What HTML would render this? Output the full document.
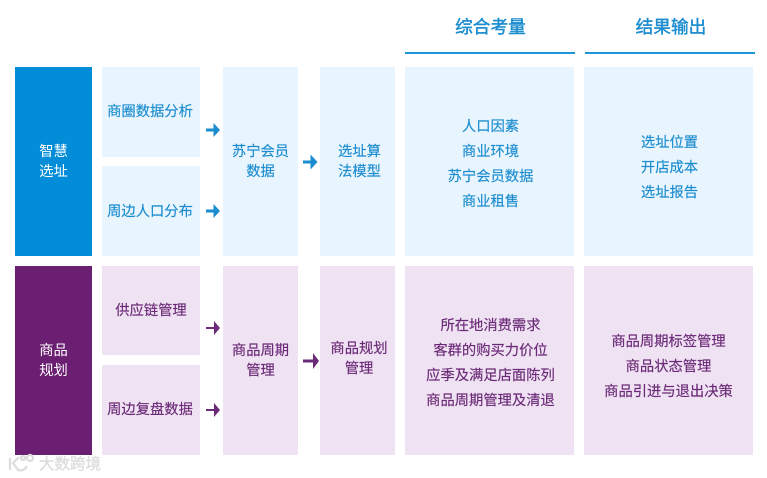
<!DOCTYPE html>
<html lang="zh"><head><meta charset="utf-8"><style>
html,body{margin:0;padding:0;background:#fff}
#c{position:relative;width:767px;height:478px;overflow:hidden;background:#fff;font-family:"Liberation Sans","Noto Sans CJK SC",sans-serif}
.b{position:absolute}
.t{position:absolute;font-size:14.3px;line-height:20px;height:20px;margin-top:2px;text-align:center;white-space:nowrap;font-weight:400;-webkit-text-stroke:.15px currentColor}
.bl{color:#1a8ccf}.pu{color:#6b2a78}.t.w{color:#fff;-webkit-text-stroke:0}
.t.h{font-size:17.7px;color:#1a8ccf;margin-top:0;-webkit-text-stroke:.4px currentColor}
</style></head><body><div id="c">
<div class="b" style="left:405px;top:52px;width:170px;height:2px;background:#1e96d8"></div>
<div class="b" style="left:585px;top:52px;width:170px;height:2px;background:#1e96d8"></div>
<div class="t h" style="left:405px;width:171px;top:17px">综合考量</div>
<div class="t h" style="left:586px;width:170px;top:17px">结果输出</div>

<div class="b" style="left:15px;top:67px;width:77px;height:189px;background:#038dd8"></div>
<div class="b" style="left:102px;top:67px;width:98px;height:90px;background:#e9f5fe"></div>
<div class="b" style="left:102px;top:166px;width:98px;height:90px;background:#e9f5fe"></div>
<div class="b" style="left:223px;top:67px;width:75px;height:189px;background:#e9f5fe"></div>
<div class="b" style="left:320px;top:67px;width:75px;height:189px;background:#e9f5fe"></div>
<div class="b" style="left:405px;top:67px;width:169px;height:189px;background:#e9f5fe"></div>
<div class="b" style="left:584px;top:67px;width:169px;height:189px;background:#e9f5fe"></div>

<div class="b" style="left:15px;top:266px;width:77px;height:189px;background:#6b1f73"></div>
<div class="b" style="left:102px;top:266px;width:98px;height:89px;background:#efe2f2"></div>
<div class="b" style="left:102px;top:365px;width:98px;height:90px;background:#efe2f2"></div>
<div class="b" style="left:223px;top:266px;width:75px;height:189px;background:#efe2f2"></div>
<div class="b" style="left:320px;top:266px;width:75px;height:189px;background:#efe2f2"></div>
<div class="b" style="left:405px;top:266px;width:169px;height:189px;background:#efe2f2"></div>
<div class="b" style="left:584px;top:266px;width:169px;height:189px;background:#efe2f2"></div>

<div class="t w" style="left:15px;width:77px;top:140px">智慧</div>
<div class="t w" style="left:15px;width:77px;top:160px">选址</div>
<div class="t bl" style="left:101px;width:98px;top:100px">商圈数据分析</div>
<div class="t bl" style="left:101px;width:98px;top:200px">周边人口分布</div>
<div class="t bl" style="left:223px;width:75px;top:140px">苏宁会员</div>
<div class="t bl" style="left:223px;width:75px;top:160px">数据</div>
<div class="t bl" style="left:321px;width:77px;top:140px">选址算</div>
<div class="t bl" style="left:321px;width:77px;top:160px">法模型</div>
<div class="t bl" style="left:405px;width:171px;top:115px">人口因素</div>
<div class="t bl" style="left:405px;width:171px;top:140px">商业环境</div>
<div class="t bl" style="left:405px;width:171px;top:165px">苏宁会员数据</div>
<div class="t bl" style="left:405px;width:171px;top:190px">商业租售</div>
<div class="t bl" style="left:584px;width:171px;top:131px">选址位置</div>
<div class="t bl" style="left:584px;width:171px;top:156px">开店成本</div>
<div class="t bl" style="left:584px;width:171px;top:181px">选址报告</div>

<div class="t w" style="left:15px;width:77px;top:339px">商品</div>
<div class="t w" style="left:15px;width:77px;top:359px">规划</div>
<div class="t pu" style="left:102px;width:98px;top:299px">供应链管理</div>
<div class="t pu" style="left:101px;width:98px;top:398px">周边复盘数据</div>
<div class="t pu" style="left:223px;width:75px;top:339px">商品周期</div>
<div class="t pu" style="left:223px;width:75px;top:359px">管理</div>
<div class="t pu" style="left:320px;width:78px;top:337px">商品规划</div>
<div class="t pu" style="left:320px;width:78px;top:357px">管理</div>
<div class="t pu" style="left:405px;width:171px;top:314px">所在地消费需求</div>
<div class="t pu" style="left:405px;width:171px;top:339px">客群的购买力价位</div>
<div class="t pu" style="left:405px;width:171px;top:364px">应季及满足店面陈列</div>
<div class="t pu" style="left:405px;width:171px;top:389px">商品周期管理及清退</div>
<div class="t pu" style="left:583px;width:171px;top:330px">商品周期标签管理</div>
<div class="t pu" style="left:583px;width:171px;top:355px">商品状态管理</div>
<div class="t pu" style="left:583px;width:171px;top:380px">商品引进与退出决策</div>

<svg class="b" style="left:0;top:0" width="767" height="478" viewBox="0 0 767 478">
<g fill="#1a8ccf">
<path d="M206 128.500h7.500v-5.500l6.500 7-6.500 7v-5.500h-7.500z"/>
<path d="M206 209.500h7.500v-5.500l6.500 7-6.500 7v-5.500h-7.500z"/>
<path d="M303 160.500h7.500v-6l7 7.500-7 7.500v-6h-7.500z"/>
</g>
<g fill="#6b2a78">
<path d="M206 327h8v-6l6 7-6 7v-6h-8z"/>
<path d="M206 409h8v-6l6 7-6 7v-6h-8z"/>
<path d="M303 359.500h10v-6.500l6 8-6 8v-6.500h-10z"/>
</g>
<g fill="none" stroke="#dcdcdc" stroke-width="2.200">
<path d="M10 458v12M19 457l-6 6 5 7c4 1 7 0 9-4"/>
<circle cx="23" cy="458" r="2"/><circle cx="30" cy="458" r="3"/>
</g>
<text x="39" y="469" font-size="15.500" fill="#dedede" stroke="#dedede" stroke-width=".4" font-family="'Liberation Sans','Noto Sans CJK SC',sans-serif">大数跨境</text>
</svg>
</div></body></html>
